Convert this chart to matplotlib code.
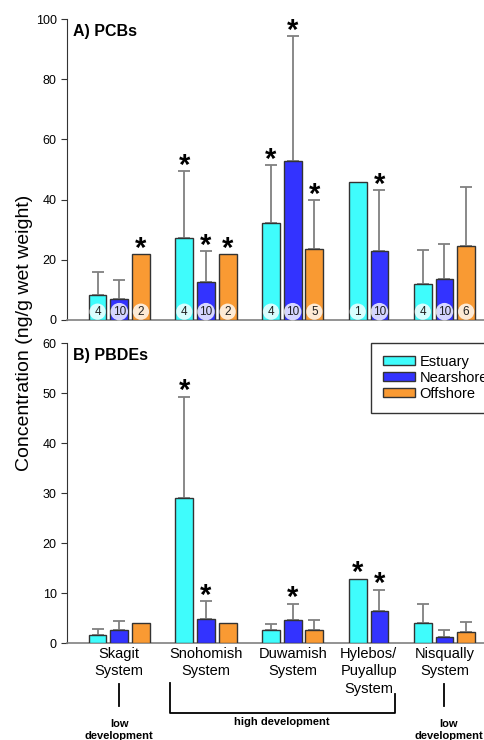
import matplotlib
matplotlib.use("Agg")
import matplotlib.pyplot as plt
import matplotlib.transforms as mtransforms
import numpy as np

plt.rcParams['font.family'] = ['Liberation Sans', 'DejaVu Sans']

systems = ['Skagit\nSystem', 'Snohomish\nSystem', 'Duwamish\nSystem',
           'Hylebos/\nPuyallup\nSystem', 'Nisqually\nSystem']
sites = ['Estuary', 'Nearshore', 'Offshore']
colors = ['#3ffcfc', '#3333ff', '#f99a33']
nan = np.nan

# A) PCBs  (mean, upper error)
pcb_mean = {'Estuary':   [8.2, 27.1, 32.1, 45.9, 12.0],
            'Nearshore': [7.1, 12.6, 52.8, 22.9, 13.6],
            'Offshore':  [21.9, 21.9, 23.5, nan, 24.5]}
pcb_err = {'Estuary':   [7.8, 22.5, 19.5, nan, 11.3],
           'Nearshore': [6.1, 10.2, 41.6, 20.2, 11.5],
           'Offshore':  [nan, nan, 16.4, nan, 19.8]}
pcb_n = {'Estuary':   [4, 4, 4, 1, 4],
         'Nearshore': [10, 10, 10, 10, 10],
         'Offshore':  [2, 2, 5, None, 6]}
pcb_star = {'Estuary':   [0, 1, 1, 0, 0],
            'Nearshore': [0, 1, 1, 1, 0],
            'Offshore':  [1, 1, 1, 0, 0]}

# B) PBDEs
pbde_mean = {'Estuary':   [1.6, 29.0, 2.7, 12.9, 4.1],
             'Nearshore': [2.6, 4.9, 4.7, 6.5, 1.3],
             'Offshore':  [4.0, 4.0, 2.7, nan, 2.3]}
pbde_err = {'Estuary':   [1.3, 20.3, 1.2, nan, 3.8],
            'Nearshore': [1.9, 3.5, 3.2, 4.2, 1.3],
            'Offshore':  [nan, nan, 2.0, nan, 2.0]}
pbde_star = {'Estuary':   [0, 1, 0, 1, 0],
             'Nearshore': [0, 1, 1, 1, 0],
             'Offshore':  [0, 0, 0, 0, 0]}

# slot positions: each group has its bars, then one empty slot
pos = {s: [] for s in sites}
centers = []
x = 0
for g in range(len(systems)):
    nb = sum(1 for s in sites if not np.isnan(pcb_mean[s][g]))
    for k, s in enumerate(sites):
        pos[s].append(x + k if k < nb else nan)
    centers.append(x + (nb - 1) / 2)
    x += nb + 1

W, H = 485, 740
fig = plt.figure(figsize=(W / 100, H / 100), dpi=100)
ax1 = fig.add_axes([67 / W, 1 - 320 / H, 1 - 67 / W, 301 / H])
ax2 = fig.add_axes([67 / W, 1 - 643 / H, 1 - 67 / W, 300 / H])


def draw(ax, mean, err, star, n, ymax, step, title):
    for s, c in zip(sites, colors):
        xs = np.array(pos[s], float)
        m = np.array(mean[s], float)
        e = np.array(err[s], float)
        ok = ~np.isnan(m)
        ax.bar(xs[ok], m[ok], width=0.82, color=c, edgecolor='#333333',
               linewidth=1.0, zorder=3, label=s)
        ke = ok & ~np.isnan(e)
        eb = ax.errorbar(xs[ke], m[ke], yerr=[np.zeros(ke.sum()), e[ke]],
                         fmt='none', ecolor='#808080', elinewidth=1.3,
                         capsize=4.3, capthick=1.3, zorder=2)
        for cl in eb[1]:
            cl.set_color('#333333')
        for i in range(len(xs)):
            if not ok[i]:
                continue
            top = m[i] + (e[i] if not np.isnan(e[i]) else 0)
            if star[s][i]:
                ax.annotate('*', (xs[i], top), xytext=(0, -2),
                            textcoords='offset points', ha='center',
                            va='baseline', fontsize=21, fontweight='bold',
                            zorder=5)
            if n is not None and n[s][i] is not None:
                ax.annotate(str(n[s][i]), (xs[i], 0), xytext=(0, 6),
                            textcoords='offset points', ha='center',
                            va='center', fontsize=8.5, color='#222222',
                            zorder=6,
                            bbox=dict(boxstyle='circle,pad=0.18', fc='white',
                                      ec='none', alpha=0.8))
    ax.set_ylim(0, ymax)
    ax.set_yticks(np.arange(0, ymax + 1, step))
    ax.set_xlim(-1.41, 17.87)
    ax.set_xticks([])
    for sp in ['top', 'right']:
        ax.spines[sp].set_visible(False)
    ax.spines['left'].set_color('#333333')
    ax.spines['bottom'].set_color('#808080')
    ax.spines['bottom'].set_linewidth(1.2)
    ax.tick_params(axis='y', labelsize=9, length=4, color='#333333',
                   direction='out')
    ax.text(0.015, 0.985, title, transform=ax.transAxes, fontsize=11.5,
            fontweight='bold', ha='left', va='top')


draw(ax1, pcb_mean, pcb_err, pcb_star, pcb_n, 100, 20, 'A) PCBs')
draw(ax2, pbde_mean, pbde_err, pbde_star, None, 60, 10, 'B) PBDEs')

leg = ax2.legend(loc='upper left', bbox_to_anchor=(0.727, 1.0),
                 borderaxespad=0, fontsize=10.5, handlelength=2.2,
                 handleheight=0.55, labelspacing=0.15, handletextpad=0.35,
                 borderpad=0.8, fancybox=False, framealpha=1)
leg.get_frame().set_edgecolor('#333333')
leg.get_frame().set_linewidth(1.0)

fig.text(25 / W, 1 - 333 / H, 'Concentration (ng/g wet weight)',
         rotation=90, ha='center', va='center', fontsize=14)

# system labels and development brackets below the lower panel
tr = mtransforms.blended_transform_factory(ax2.transData, fig.transFigure)
for cx, lab in zip(centers, systems):
    ax2.text(cx, 1 - 647 / H, lab, transform=tr, ha='center', va='top',
             fontsize=10.5, linespacing=1.3)


def fy(p):
    return 1 - p / H


lk = dict(transform=tr, color='black', lw=1.3, clip_on=False)
ax2.plot([centers[0]] * 2, [fy(684), fy(706)], **lk)
ax2.plot([centers[4]] * 2, [fy(684), fy(706)], **lk)
xl = pos['Estuary'][1] - 0.68
xr = pos['Nearshore'][3] + 0.7
ax2.plot([xl, xl, xr, xr], [fy(683), fy(713), fy(713), fy(694)], **lk)
bk = dict(transform=tr, ha='center', va='center', fontsize=8,
          fontweight='bold', linespacing=1.3)
ax2.text(centers[0], fy(730), 'low\ndevelopment', **bk)
ax2.text(centers[4] + 0.2, fy(730), 'low\ndevelopment', **bk)
ax2.text(centers[2] - 0.5, fy(722), 'high development', **bk)

fig.savefig('out.png', dpi=100)
